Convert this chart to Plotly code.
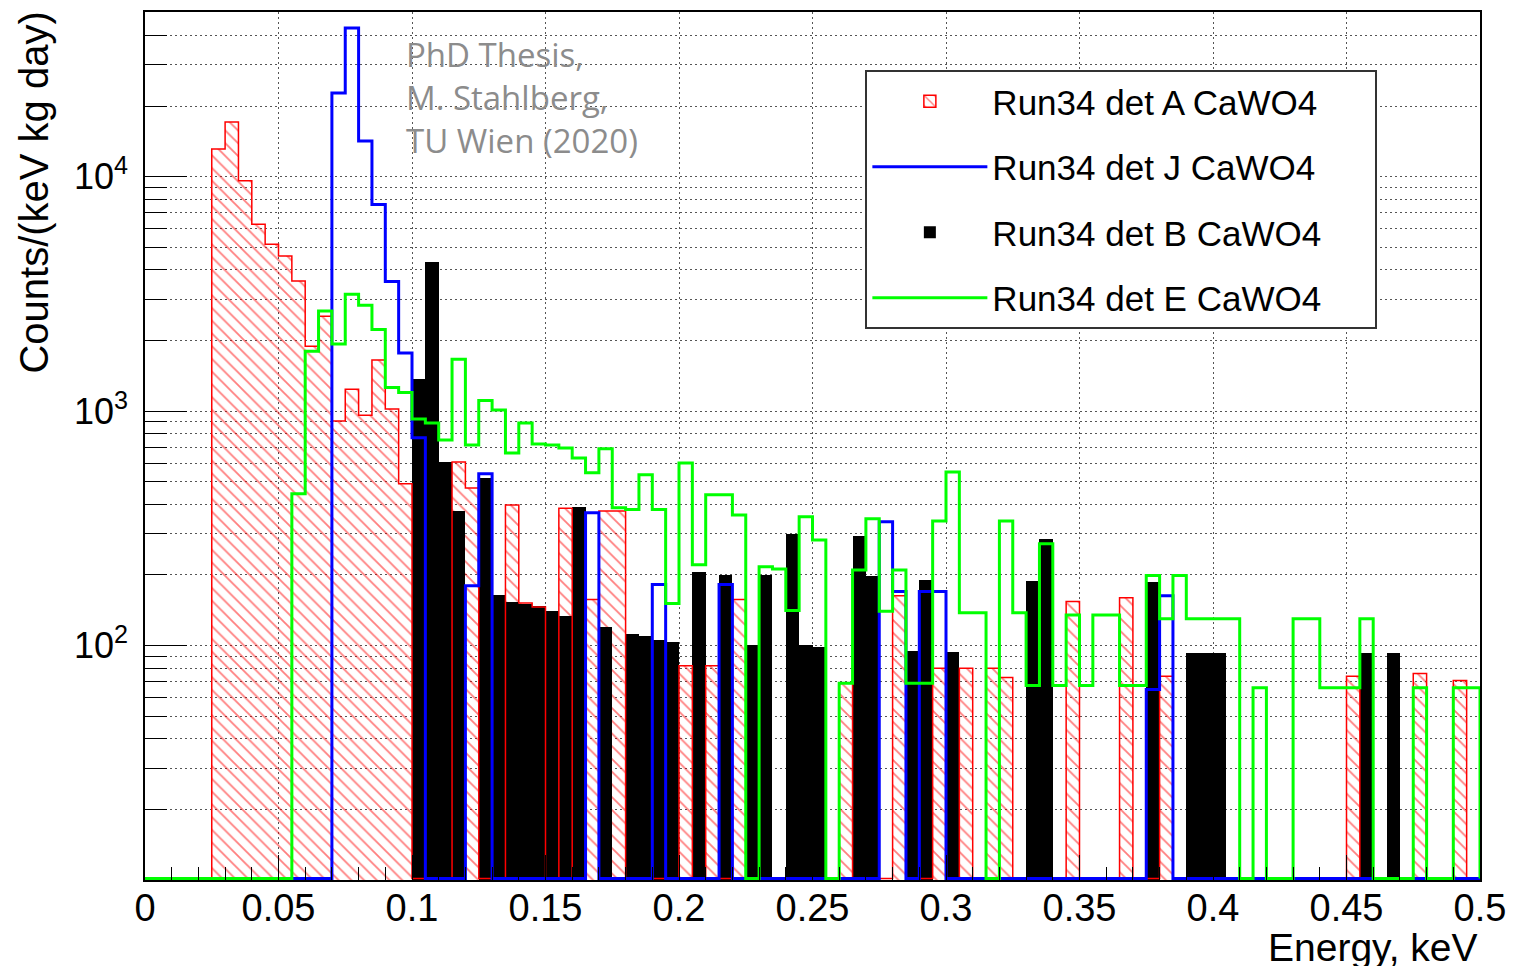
import plotly.graph_objects as go

# ---------------- data ----------------
BIN_WIDTH = 0.005          # keV
N_BINS = 100
energy_edges = [round(i * BIN_WIDTH, 4) for i in range(N_BINS + 1)]
energy_centers = [round(e + BIN_WIDTH / 2, 5) for e in energy_edges[:-1]]

# Run34 det A CaWO4 (red hatched)
det_A = [0, 0, 0, 0, 0, 13100, 17100, 9600, 6260, 5140,
         4590, 3590, 1890, 2540, 906, 1240, 960, 1650, 1020, 490,
         0, 0, 0, 607, 470, 0, 0, 398, 152, 146,
         0, 385, 0, 157, 375, 375, 0, 0, 0, 0,
         82, 0, 82, 0, 157, 0, 0, 0, 0, 0,
         0, 0, 69, 0, 0, 0, 163, 0, 0, 80,
         0, 80, 0, 80, 73, 0, 0, 0, 0, 154,
         0, 0, 0, 160, 0, 0, 74, 0, 0, 0,
         0, 0, 0, 0, 0, 0, 0, 0, 0, 0,
         74, 0, 0, 0, 0, 76, 0, 0, 71, 0]

# Run34 det J CaWO4 (blue line)
det_J = [0, 0, 0, 0, 0, 0, 0, 0, 0, 0,
         0, 0, 0, 0, 22700, 43000, 14200, 7600, 3570, 1770,
         770, 0, 0, 0, 180, 540, 0, 0, 0, 0,
         0, 0, 0, 368, 0, 0, 0, 0, 182, 0,
         0, 0, 0, 182, 0, 0, 0, 0, 0, 0,
         0, 0, 0, 0, 0, 337, 170, 0, 170, 170,
         0, 0, 0, 0, 0, 0, 0, 0, 0, 0,
         0, 0, 0, 0, 0, 65, 163, 0, 0, 0,
         0, 0, 0, 0, 0, 0, 0, 0, 0, 0,
         0, 0, 0, 0, 0, 0, 0, 0, 0, 0]

# Run34 det B CaWO4 (black filled)
det_B = [0, 0, 0, 0, 0, 0, 0, 0, 0, 0,
         0, 0, 0, 0, 0, 0, 0, 0, 0, 0,
         1370, 4340, 607, 375, 0, 519, 165, 154, 150, 147,
         140, 133, 390, 0, 120, 0, 112, 110, 106, 104,
         0, 206, 0, 200, 0, 101, 200, 0, 300, 101,
         99, 0, 0, 294, 197, 0, 0, 95, 191, 0,
         94, 0, 0, 0, 0, 0, 189, 285, 0, 0,
         0, 0, 0, 0, 0, 187, 0, 0, 93, 93,
         93, 0, 0, 0, 0, 0, 0, 0, 0, 0,
         0, 92.5, 0, 92.5, 0, 0, 0, 0, 0, 0]

# Run34 det E CaWO4 (green line)
det_E = [0, 0, 0, 0, 0, 0, 0, 0, 0, 0,
         0, 444, 1800, 2670, 1930, 3150, 2830, 2230, 1260, 1200,
         925, 890, 753, 1665, 717, 1110, 1010, 662, 890, 724,
         717, 696, 631, 545, 690, 387, 380, 535, 380, 151,
         601, 221, 440, 440, 360, 0, 217, 212, 141, 354,
         282, 0, 69, 210, 347, 140, 210, 69, 69, 340,
         550, 138, 138, 0, 340, 138, 67.6, 272, 67.6, 135,
         67.6, 135, 135, 67.6, 67.6, 199, 130, 199, 130, 130,
         130, 130, 0, 66, 0, 0, 130, 130, 66, 66,
         66, 130, 0, 0, 0, 66, 0, 0, 66, 66]

x_tick_vals = [0, 0.05, 0.1, 0.15, 0.2, 0.25, 0.3, 0.35, 0.4, 0.45, 0.5]
x_tick_text = ["0", "0.05", "0.1", "0.15", "0.2", "0.25", "0.3", "0.35", "0.4", "0.45", "0.5"]
y_tick_vals = [100, 1000, 10000]
y_tick_text = ["10<sup>2</sup>", "10<sup>3</sup>", "10<sup>4</sup>"]
y_minor_vals = [m * 10 ** d for d in (1, 2, 3, 4) for m in range(2, 10) if m * 10 ** d < 50000]

LABELS = ["Run34 det A CaWO4", "Run34 det J CaWO4", "Run34 det B CaWO4", "Run34 det E CaWO4"]

# ---------------- helpers ----------------
Y_FLOOR = 10.15   # empty bins are drawn on the bottom of the log axis (ROOT style)
LEGEND_PAD = "\u00a0" * 5   # right padding inside the legend box


def step_xy(vals):
    xs = [energy_edges[0]]
    ys = [Y_FLOOR]
    for i, v in enumerate(vals):
        xs.append(energy_edges[i])
        ys.append(max(v, Y_FLOOR))
    xs.append(energy_edges[-1]); ys.append(max(vals[-1], Y_FLOOR))
    xs.append(energy_edges[-1]); ys.append(Y_FLOOR)
    return xs, ys


def bar_y(vals):
    return [v if v > 0 else None for v in vals]


RED = "#ff0000"
BLUE = "#0000ff"
GREEN = "#00ff00"
hatch = dict(shape="\\", fgcolor=RED, bgcolor="rgba(0,0,0,0)", size=9, solidity=0.2)

fig = go.Figure()

# det A: hatched fill + outline
fig.add_trace(go.Bar(x=energy_centers, y=bar_y(det_A), width=BIN_WIDTH,
                     marker=dict(color="rgba(0,0,0,0)", line=dict(width=0), pattern=hatch),
                     showlegend=False, hoverinfo="skip"))
xa, ya = step_xy(det_A)
fig.add_trace(go.Scatter(x=xa, y=ya, mode="lines", line=dict(color=RED, width=1.5, shape="hv"),
                         showlegend=False, hoverinfo="skip"))
# legend-only entry for det A
fig.add_trace(go.Bar(x=[None], y=[None], name=LABELS[0] + LEGEND_PAD, legendgroup="A",
                     marker=dict(color="rgba(0,0,0,0)", line=dict(color=RED, width=1.5), pattern=hatch)))

# det J: blue outline
xj, yj = step_xy(det_J)
fig.add_trace(go.Scatter(x=xj, y=yj, mode="lines", name=LABELS[1] + LEGEND_PAD, legendgroup="J",
                         line=dict(color=BLUE, width=3, shape="hv")))

# det B: black filled
fig.add_trace(go.Bar(x=energy_centers, y=bar_y(det_B), width=BIN_WIDTH, name=LABELS[2] + LEGEND_PAD,
                     legendgroup="B", marker=dict(color="black", line=dict(width=0))))

# det E: green outline
xe, ye = step_xy(det_E)
fig.add_trace(go.Scatter(x=xe, y=ye, mode="lines", name=LABELS[3] + LEGEND_PAD, legendgroup="E",
                         line=dict(color=GREEN, width=3, shape="hv")))

GRID = dict(showgrid=True, gridcolor="#555555", gridwidth=1, griddash="2px,3px")

fig.update_layout(
    width=1516, height=966,
    margin=dict(l=145, r=31, t=10, b=86),
    paper_bgcolor="white", plot_bgcolor="white",
    barmode="overlay", bargap=0,
    font=dict(family="Liberation Sans, Arial, sans-serif", color="black"),
    xaxis=dict(range=[0, 0.5], tickmode="array", tickvals=x_tick_vals, ticktext=x_tick_text,
               ticks="inside", ticklen=25, tickwidth=1, tickcolor="black",
               showline=True, linecolor="black", linewidth=1.5, mirror=True,
               zeroline=False, tickfont=dict(size=38), ticklabelstandoff=-6,
               minor=dict(dtick=0.01, tick0=0, ticks="inside", ticklen=13, tickcolor="black", showgrid=False),
               **GRID),
    yaxis=dict(type="log", range=[1, 4.702], tickmode="array", tickvals=y_tick_vals, ticktext=y_tick_text,
               ticks="inside", ticklen=42, tickwidth=1, tickcolor="black",
               showline=True, linecolor="black", linewidth=1.5, mirror=True,
               zeroline=False, tickfont=dict(size=36), ticklabelstandoff=8,
               minor=dict(tickmode="array", tickvals=y_minor_vals, ticks="inside", ticklen=22,
                          tickcolor="black", showgrid=True, gridcolor="#555555", griddash="2px,3px"),
               **GRID),
    legend=dict(x=0.5396, y=0.9333, xanchor="left", yanchor="top",
                bgcolor="white", bordercolor="#333333", borderwidth=2,
                font=dict(size=35), tracegroupgap=17, itemwidth=115,
                traceorder="grouped"),
    annotations=[
        dict(text="Energy, keV", xref="paper", yref="paper", x=1.0, y=-0.051,
             xanchor="right", yanchor="top", showarrow=False, font=dict(size=39)),
        dict(text="Counts/(keV kg day)", xref="paper", yref="paper", x=-0.083, y=1.003,
             xanchor="center", yanchor="top", textangle=-90, showarrow=False, font=dict(size=40)),
        dict(text="PhD Thesis,<br>M. Stahlberg,<br>TU Wien (2020)", xref="paper", yref="paper",
             x=0.194, y=0.9011, xanchor="left", yanchor="middle", align="left", showarrow=False,
             font=dict(family="Open Sans, Noto Sans, sans-serif", size=33, color="#8c8c8c")),
    ],
)

fig.write_html("out.html")
